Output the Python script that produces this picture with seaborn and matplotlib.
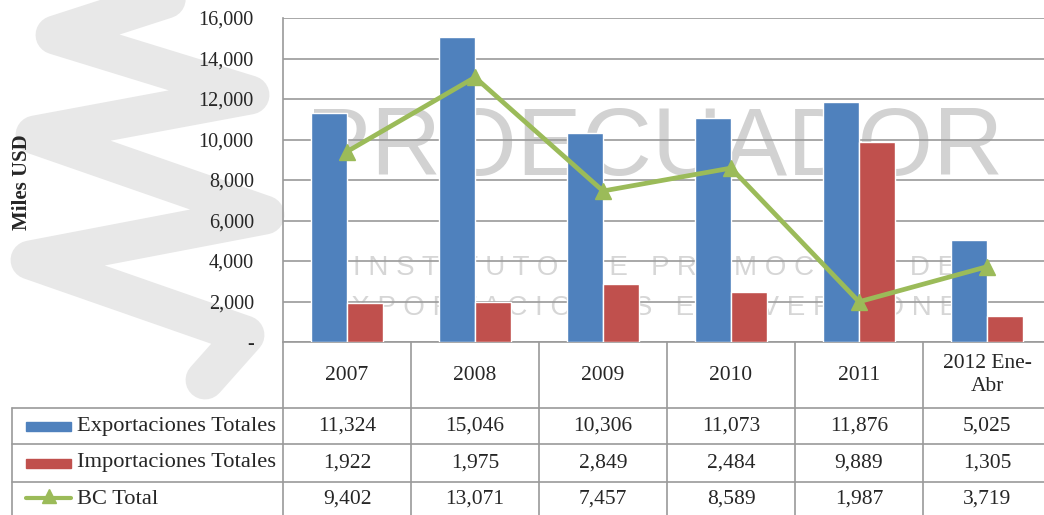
import numpy as np
import pandas as pd
import seaborn as sns
import matplotlib.pyplot as plt

# datos (Miles USD)
years = ["2007", "2008", "2009", "2010", "2011", "2012 Ene-\nAbr"]
exportaciones = [11324, 15046, 10306, 11073, 11876, 5025]
importaciones = [1922, 1975, 2849, 2484, 9889, 1305]
bc_total = [9402, 13071, 7457, 8589, 1987, 3719]
series_names = ["Exportaciones Totales", "Importaciones Totales", "BC Total"]
y_ticks = list(range(0, 16001, 2000))

blue = "#4F81BD"
red = "#C0504D"
green = "#9BBB59"
grid_col = "#9a9a9a"

sns.set_theme(style="white")
plt.rcParams["font.family"] = ["Liberation Serif", "DejaVu Serif"]

W, H = 1044, 515
fig = plt.figure(figsize=(W / 100, H / 100), dpi=100)

# fondo en pixeles (marca de agua + tabla)
bg = fig.add_axes([0, 0, 1, 1], zorder=0)
bg.set_xlim(0, W)
bg.set_ylim(H, 0)
bg.axis("off")

# espiral gris de la marca de agua
coil_x = [225, 55, 250, 35, 265, 30, 245, 205]
coil_y = [-20, 35, 95, 135, 215, 260, 335, 380]
bg.plot(coil_x, coil_y, color="#e8e8e8", lw=28, solid_capstyle="round",
        solid_joinstyle="round", zorder=0)

bg.text(655, 150, "PROECUADOR", fontsize=70, color="#d2d2d2", ha="center",
        va="center", family=["Liberation Sans", "DejaVu Sans"], zorder=1)
bg.text(655, 268, "I N S T I T U T O   D E   P R O M O C I Ó N   D E",
        fontsize=20, color="#d6d6d6", ha="center", va="center",
        family=["Liberation Sans", "DejaVu Sans"], zorder=1)
bg.text(655, 308, "E X P O R T A C I O N E S   E   I N V E R S I O N E S",
        fontsize=20, color="#d6d6d6", ha="center", va="center",
        family=["Liberation Sans", "DejaVu Sans"], zorder=1)

# grafico principal
left, right, top, bottom = 283, 1051, 18, 342
ax = fig.add_axes([left / W, (H - bottom) / H, (right - left) / W, (bottom - top) / H], zorder=2)
ax.patch.set_alpha(0)

df = pd.DataFrame({
    "year": years * 2,
    "serie": [series_names[0]] * len(years) + [series_names[1]] * len(years),
    "value": exportaciones + importaciones,
})
sns.barplot(data=df, x="year", y="value", hue="serie", palette=[blue, red],
             width=0.56, saturation=1, legend=False, ax=ax, zorder=3)
ax.plot(np.arange(len(years)), bc_total, color=green, lw=3.4, marker="^",
        markersize=12, zorder=4)

ax.set_xlim(-0.5, len(years) - 0.5)
ax.set_ylim(0, 16000)
ax.set_yticks(y_ticks)
ax.set_yticklabels(["-" if v == 0 else f"{v:,}" for v in y_ticks], fontsize=14.5)
ax.yaxis.grid(True, color=grid_col, lw=1.2)
ax.set_axisbelow(True)
ax.tick_params(axis="y", length=0, pad=21)
ax.tick_params(axis="x", length=0, labelbottom=False)
ax.set_xlabel("")
ax.set_ylabel("")
for s in ["top", "right", "bottom"]:
    ax.spines[s].set_visible(False)
ax.spines["left"].set_color(grid_col)
ax.spines["left"].set_linewidth(1.2)

fig.text(22 / W, 1 - 182 / H, "Miles USD", rotation=90, fontsize=15,
         fontweight="bold", ha="center", va="center")

# tabla de datos
col_w = (right - left) / len(years)
col_edges = [left + i * col_w for i in range(len(years) + 1)]
row_lines = [408, 444, 482]
lc = dict(color=grid_col, lw=1.2, zorder=2)
bg.plot([left, W], [bottom, bottom], **lc)
for y in row_lines:
    bg.plot([12, W], [y, y], **lc)
bg.plot([12, 12], [row_lines[0], H], **lc)
for x in col_edges:
    bg.plot([x, x], [bottom, H], **lc)

row_centers = [426, 463, 499]
for i, yr in enumerate(years):
    cx = left + (i + 0.5) * col_w
    bg.text(cx, 375, yr, ha="center", va="center", fontsize=15.5,
            linespacing=1.3, zorder=3)
    for vals, yc in zip([exportaciones, importaciones, bc_total], row_centers):
        bg.text(cx, yc, f"{vals[i]:,}", ha="center", va="center",
                fontsize=15.5, zorder=3)

for name, yc in zip(series_names, row_centers):
    bg.text(77, yc, name, ha="left", va="center", fontsize=16.2, zorder=3)
bg.add_patch(plt.Rectangle((26, 422), 45, 9, color=blue, zorder=3))
bg.add_patch(plt.Rectangle((26, 459), 45, 9, color=red, zorder=3))
bg.plot([26, 71], [498, 498], color=green, lw=3, zorder=3)
bg.plot([48.5], [496], marker="^", color=green, markersize=10, zorder=3)

fig.savefig("out.png", dpi=100)
